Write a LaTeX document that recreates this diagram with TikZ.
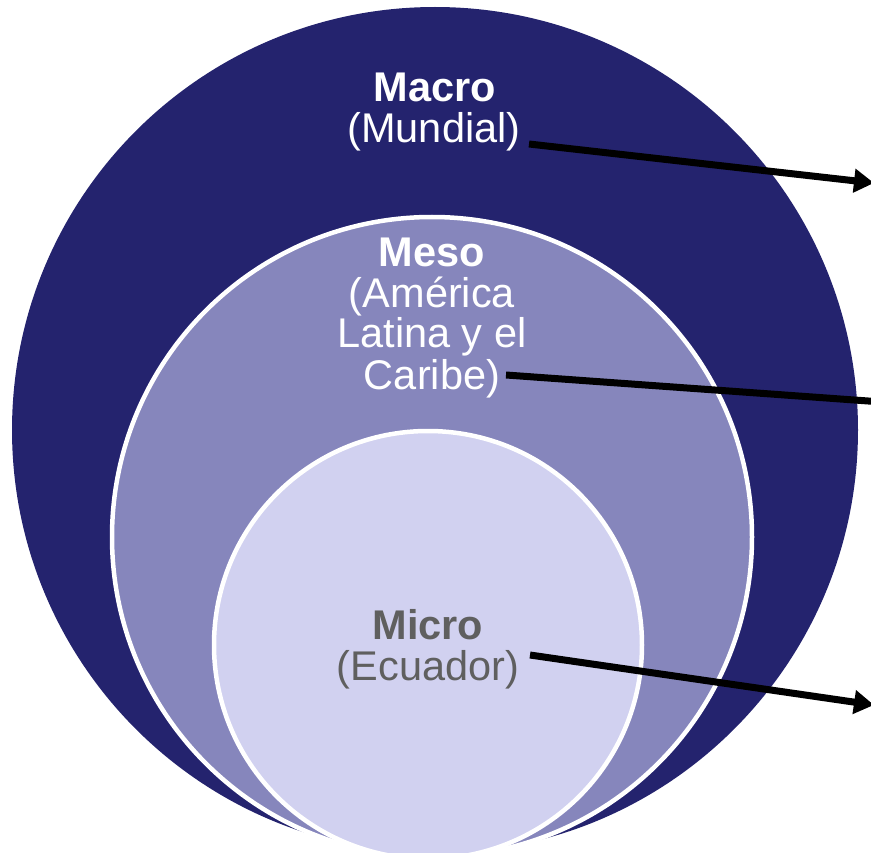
\documentclass[tikz,border=0pt]{standalone}
\usepackage{fontspec}
\setmainfont{Liberation Sans}
\usetikzlibrary{arrows.meta}
\definecolor{navy}{RGB}{36,35,110}
\definecolor{midpurple}{RGB}{134,134,188}
\definecolor{lightpurple}{RGB}{209,209,240}
\definecolor{microgray}{RGB}{95,95,95}
\tikzset{
  lbl/.style={anchor=base, inner sep=0pt, font=\fontsize{41.5}{41}\selectfont},
  lblb/.style={lbl, font=\fontsize{41.5}{41}\selectfont\bfseries},
  pointer/.style={line width=7pt, -{Triangle[length=20pt,width=23pt]}, black},
}
\begin{document}
\begin{tikzpicture}[x=1pt,y=-1pt]
\useasboundingbox (0,0) rectangle (871,853);
\clip (0,0) rectangle (871,853);
% circles
\fill[navy] (435,430) circle[radius=423];
\filldraw[fill=midpurple, draw=white, line width=4.5pt] (432,537) circle[radius=320];
\filldraw[fill=lightpurple, draw=white, line width=4.5pt] (428,645) circle[radius=214];
% texts
\node[lblb, text=white] (macro) at (435,102) {Macro};
\node[lbl, text=white] (mundial) at (434,143) {(Mundial)};
\node[lblb, text=white] (meso) at (432,267) {Meso};
\node[lbl, text=white] (america) at (432,308) {(América};
\node[lbl, text=white] (latina) at (432,348) {Latina y el};
\node[lbl, text=white] (caribe) at (432,389) {Caribe)};
\node[lblb, text=microgray] (micro) at (428,639) {Micro};
\node[lbl, text=microgray] (ecuador) at (428,680) {(Ecuador)};
% arrows
\coordinate (a1s) at (529,144);
\coordinate (a1e) at (874,183);
\coordinate (a2s) at (506,375);
\coordinate (a2e) at (910,404);
\coordinate (a3s) at (530,655);
\coordinate (a3e) at (874,705);
\draw[pointer] (a1s) -- (a1e);
\draw[pointer] (a2s) -- (a2e);
\draw[pointer] (a3s) -- (a3e);
\end{tikzpicture}
\end{document}
